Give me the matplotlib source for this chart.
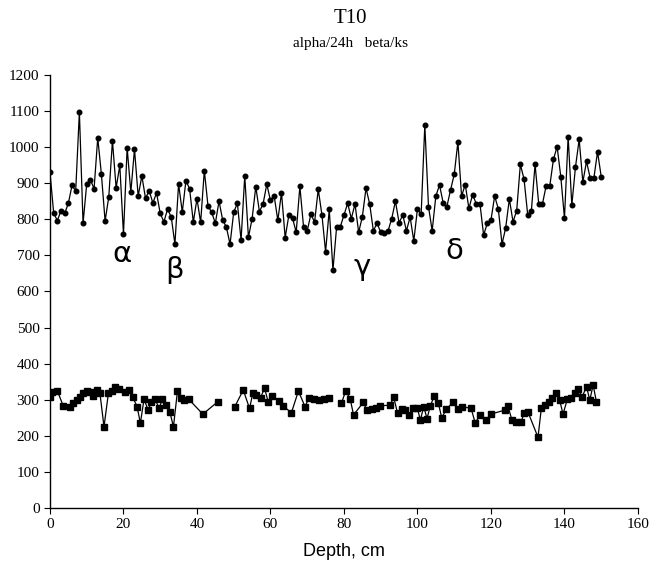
import numpy as np
import matplotlib
matplotlib.use("Agg")
import matplotlib.pyplot as plt

# alpha/24h, one reading per cm of depth (0..150)
alpha_depth = np.arange(0, 151)
alpha_counts = [
    930, 818, 796, 824, 816, 844, 894, 878, 1097, 789,
    898, 910, 884, 1026, 924, 795, 862, 1017, 887, 949,
    759, 998, 875, 994, 864, 920, 858, 879, 845, 873,
    816, 793, 828, 806, 731, 898, 820, 907, 884, 792,
    857, 791, 935, 837, 819, 789, 850, 798, 778, 731,
    820, 844, 742, 920, 750, 801, 890, 821, 843, 897,
    852, 865, 797, 873, 749, 811, 803, 764, 891, 779,
    768, 814, 792, 883, 812, 710, 827, 659, 779, 779,
    812, 844, 802, 842, 764, 807, 886, 842, 768, 789,
    764, 761, 768, 802, 850, 790, 812, 768, 806, 740,
    829, 814, 1061, 835, 768, 864, 895, 845, 835, 881,
    924, 1014, 864, 896, 830, 868, 843, 843, 756, 789,
    798, 864, 829, 731, 776, 856, 793, 824, 952, 911,
    812, 824, 952, 842, 842, 892, 892, 966, 1001, 918,
    803, 1029, 839, 945, 1021, 903, 960, 914, 914, 987,
    918,
]

# beta/ks, irregular depths, None marks breaks in the record
beta_depth = [
    0.0, 0.6, 2.0, 3.6, 5.5, 6.4, 7.3, 8.2, 9.1, 10.0,
    10.9, 11.8, 12.7, 13.6, 14.7, 15.9, 16.8, 17.7, 18.8, 20.5,
    21.6, 22.5, 23.7, 24.6, 25.6, 26.7, 27.6, 28.6, 29.7, 30.6,
    31.7, 32.6, 33.6, 34.7, 35.7, 36.6, 37.7, 41.6, 45.6, 48.0,
    50.3, 52.6, 54.3, 55.2, 56.1, 57.3, 58.4, 59.4, 60.5, 62.3,
    63.4, 65.7, 67.6, 69.4, 70.5, 71.8, 73.2, 74.6, 75.9, 77.5,
    79.3, 80.5, 81.7, 82.6, 85.3, 86.2, 87.6, 88.7, 89.8, 92.6,
    93.5, 94.6, 95.7, 96.6, 97.8, 98.7, 99.9, 100.8, 101.7, 102.6,
    103.5, 104.6, 105.7, 106.6, 107.8, 109.8, 111.0, 112.1, 114.6, 115.7,
    117.1, 118.7, 119.9, 123.7, 124.6, 125.7, 126.9, 128.2, 129.0, 130.1,
    132.8, 133.7, 134.8, 135.7, 136.6, 137.8, 138.7, 139.6, 140.8, 141.9,
    142.8, 143.7, 144.8, 146.0, 146.9, 147.8, 148.7,
]
beta_counts = [
    308, 322, 325, 283, 281, 290, 299, 308, 318, 324,
    322, 311, 327, 318, 225, 318, 324, 336, 330, 322,
    327, 308, 281, 235, 302, 271, 294, 302, 276, 302,
    285, 267, 225, 325, 306, 299, 302, 260, 294, None,
    281, 327, 276, 318, 313, 306, 332, 293, 311, 296,
    283, 264, 324, 281, 306, 302, 299, 302, 304, None,
    290, 325, 302, 258, 293, 271, 274, 278, 283, 285,
    308, 262, 273, 271, 258, 276, 278, 244, 281, 248,
    283, 311, 290, 250, 273, 294, 273, 281, 276, 236,
    258, 244, 260, 271, 283, 244, 239, 239, 262, 265,
    196, 276, 285, 293, 306, 320, 299, 260, 302, 304,
    318, 330, 308, 336, 299, 341, 294,
]

greek_labels = ["\u03b1", "\u03b2", "\u03b3", "\u03b4"]
greek_x = [19.5, 34, 85, 110]
greek_y = [705, 660, 668, 712]

tick_font = ["Liberation Serif", "DejaVu Serif"]
label_font = ["Liberation Sans", "DejaVu Sans"]

fig = plt.figure(figsize=(6.49, 5.67), dpi=100)
ax = fig.add_axes([0.077, 0.104, 0.906, 0.764])

ax.plot(alpha_depth, alpha_counts, color="black", lw=0.9,
        marker="o", markersize=3.3)
beta_y = np.array([np.nan if v is None else v for v in beta_counts], dtype=float)
ax.plot(beta_depth, beta_y, color="black", lw=0.9,
        marker="s", markersize=3.8)

for lab, gx, gy in zip(greek_labels, greek_x, greek_y):
    ax.text(gx, gy, lab, fontsize=21, ha="center", va="center",
            family=["DejaVu Sans"])

ax.set_xlim(0, 160)
ax.set_ylim(0, 1200)
ax.set_xticks(np.arange(0, 161, 20))
ax.set_yticks(np.arange(0, 1201, 100))
for s in ["top", "right"]:
    ax.spines[s].set_visible(False)
ax.spines["left"].set_linewidth(1.0)
ax.spines["bottom"].set_linewidth(1.0)
ax.tick_params(direction="out", length=4, width=0.8, labelsize=11)
for t in ax.get_xticklabels() + ax.get_yticklabels():
    t.set_family(tick_font)

ax.set_xlabel("Depth, cm", fontsize=13, family=label_font, labelpad=8)
fig.text(0.54, 0.968, "T10", ha="center", va="center", fontsize=15,
         family=tick_font)
fig.text(0.54, 0.924, "alpha/24h   beta/ks", ha="center", va="center",
         fontsize=11, family=tick_font)

fig.savefig("out.png", dpi=100)
